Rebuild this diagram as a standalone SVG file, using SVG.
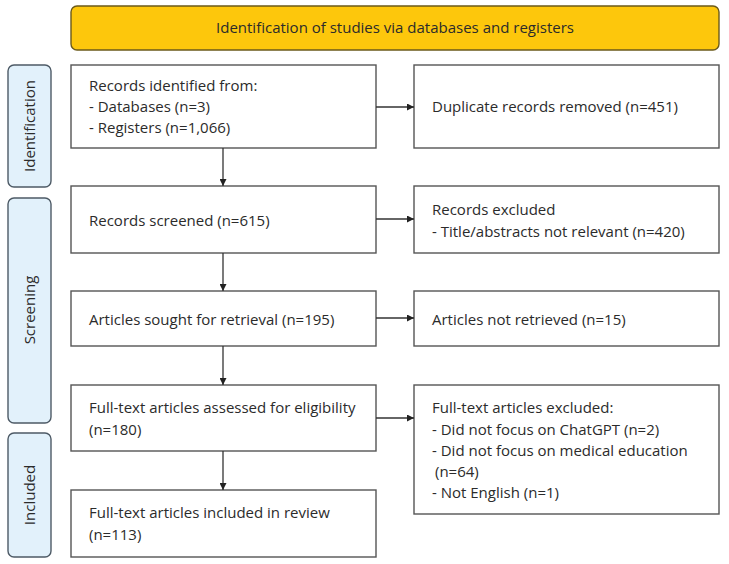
<svg xmlns="http://www.w3.org/2000/svg" width="729" height="564" viewBox="0 0 729 564">
<style>
.box{fill:#fff;stroke:#555;stroke-width:1.4}
.side{fill:#e2f1fb;stroke:#4d5a66;stroke-width:1.4}
.hdr{fill:#fdc70c;stroke:#6b5a1a;stroke-width:1.4}
text{font-family:"Open Sans","Liberation Sans",sans-serif;font-size:15px;fill:#2b2b2b}
.c{stroke:#333;stroke-width:1.3;fill:none}
</style>
<defs>
<marker id="ah" viewBox="0 0 10 10" refX="10" refY="5" markerWidth="7" markerHeight="7" markerUnits="userSpaceOnUse" orient="auto"><path d="M0,0 L10,5 L0,10 Z" fill="#222"/></marker>
</defs>
<rect width="729" height="564" fill="#fff"/>
<g id="header"><rect class="hdr" x="71" y="6" width="648" height="44" rx="6"/><text x="395" y="33" text-anchor="middle">Identification of studies via databases and registers</text></g>
<g id="side-identification"><rect class="side" x="8" y="65" width="43" height="122" rx="6"/><text transform="translate(35,126) rotate(-90)" text-anchor="middle">Identification</text></g>
<g id="side-screening"><rect class="side" x="8" y="198" width="43" height="225" rx="6"/><text transform="translate(35,310) rotate(-90)" text-anchor="middle">Screening</text></g>
<g id="side-included"><rect class="side" x="8" y="433" width="43" height="124" rx="6"/><text transform="translate(35,495) rotate(-90)" text-anchor="middle">Included</text></g>
<g id="records-identified"><rect class="box" x="71" y="65" width="305" height="83"/><text x="89" y="91">Records identified from:</text><text x="89" y="112">- Databases (n=3)</text><text x="89" y="133">- Registers (n=1,066)</text></g>
<g id="duplicates"><rect class="box" x="414" y="65" width="305" height="83"/><text x="432" y="112">Duplicate records removed (n=451)</text></g>
<g id="screened"><rect class="box" x="71" y="186" width="305" height="67"/><text x="89" y="226">Records screened (n=615)</text></g>
<g id="excluded"><rect class="box" x="414" y="186" width="305" height="67"/><text x="432" y="215">Records excluded</text><text x="432" y="237">- Title/abstracts not relevant (n=420)</text></g>
<g id="sought"><rect class="box" x="71" y="291" width="305" height="55"/><text x="89" y="325">Articles sought for retrieval (n=195)</text></g>
<g id="not-retrieved"><rect class="box" x="414" y="291" width="305" height="55"/><text x="432" y="325">Articles not retrieved (n=15)</text></g>
<g id="assessed"><rect class="box" x="71" y="385" width="305" height="66"/><text x="89" y="413">Full-text articles assessed for eligibility</text><text x="89" y="435">(n=180)</text></g>
<g id="ft-excluded"><rect class="box" x="414" y="385" width="305" height="129"/><text x="432" y="413">Full-text articles excluded:</text><text x="432" y="435">- Did not focus on ChatGPT (n=2)</text><text x="432" y="456">- Did not focus on medical education</text><text x="435" y="477">(n=64)</text><text x="432" y="498">- Not English (n=1)</text></g>
<g id="included"><rect class="box" x="71" y="490" width="305" height="67"/><text x="89" y="518">Full-text articles included in review</text><text x="89" y="540">(n=113)</text></g>
<g id="connectors">
<line class="c" x1="223" y1="148" x2="223" y2="186" marker-end="url(#ah)"/>
<line class="c" x1="223" y1="253" x2="223" y2="291" marker-end="url(#ah)"/>
<line class="c" x1="223" y1="346" x2="223" y2="385" marker-end="url(#ah)"/>
<line class="c" x1="223" y1="451" x2="223" y2="490" marker-end="url(#ah)"/>
<line class="c" x1="376" y1="107" x2="414" y2="107" marker-end="url(#ah)"/>
<line class="c" x1="376" y1="219" x2="414" y2="219" marker-end="url(#ah)"/>
<line class="c" x1="376" y1="318" x2="414" y2="318" marker-end="url(#ah)"/>
<line class="c" x1="376" y1="418" x2="414" y2="418" marker-end="url(#ah)"/>
</g>
</svg>
